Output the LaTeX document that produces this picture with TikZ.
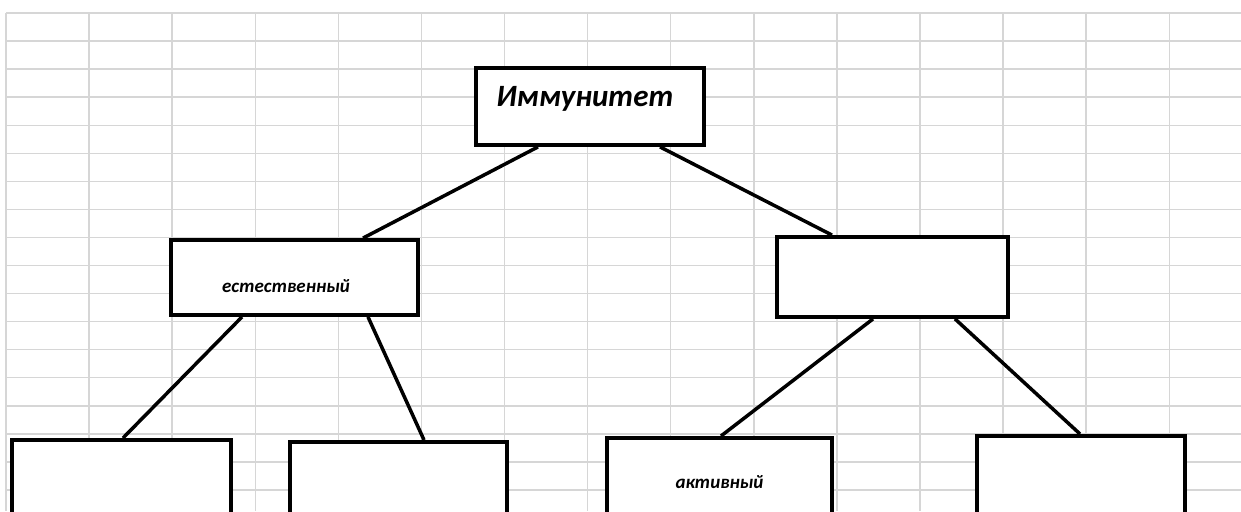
\documentclass[tikz,border=0pt]{standalone}
\usepackage{fontspec}
\setmainfont{Carlito}
\usepackage{xcolor}
\usetikzlibrary{positioning, calc}
\definecolor{gridgray}{HTML}{D6D6D6}
\definecolor{edge}{HTML}{000000}

\begin{document}
\begin{tikzpicture}[
        x=1pt, y=-1pt,
        cell/.style={gridgray, line width=1.4pt},
        box/.style={rectangle, draw=edge, fill=white, line width=3.8pt,
                    inner sep=0pt, minimum height=#1},
        box/.default=120pt,
        big/.style={font=\bfseries\itshape\fontsize{31}{33}\selectfont},
        small/.style={font=\bfseries\itshape\fontsize{19}{21}\selectfont},
        link/.style={draw=edge, line width=3.5pt}
      ]
        \useasboundingbox (0,0) rectangle (1241,511);
        \clip (0,0) rectangle (1241,511);
        \foreach \i in {0,...,14}
          \draw[cell] ({6+83.09*\i},13) -- ({6+83.09*\i},511);
        \foreach \j in {0,...,17}
          \draw[cell] (6,{13+28.06*\j}) -- (1241,{13+28.06*\j});

        \node[box=77pt, minimum width=228pt,
              label={[big, xshift=-5pt, yshift=7.5pt]center:Иммунитет}] (imm) at (590,106.5) {};
        \node[box=75pt, minimum width=247pt,
              label={[small, xshift=-8.5pt, yshift=-8.5pt]center:естественный}] (nat) at (294.5,277.5) {};
        \node[box=80pt, minimum width=231pt] (acq) at (892.5,277) {};
        \node[box, minimum width=219pt, anchor=north] (n1) at (121.5,438) {};
        \node[box, minimum width=217pt, anchor=north] (n2) at (398.5,440) {};
        \node[box, minimum width=225pt, anchor=north,
              label={[small, yshift=-56pt]north:активный}] (act) at (719.5,436) {};
        \node[box, minimum width=208pt, anchor=north] (a2) at (1081,434) {};

        \draw[link] ([xshift=-52pt]imm.south) -- ([xshift=68.5pt]nat.north);
        \draw[link] ([xshift=70pt]imm.south) -- ([xshift=-60.5pt]acq.north);
        \draw[link] ([xshift=-52.5pt]nat.south) -- ([xshift=1.5pt]n1.north);
        \draw[link] ([xshift=73.5pt]nat.south) -- ([xshift=25.5pt]n2.north);
        \draw[link] ([xshift=-19.5pt]acq.south) -- ([xshift=1.5pt]act.north);
        \draw[link] ([xshift=62.5pt]acq.south) -- ([xshift=-1pt]a2.north);
      \end{tikzpicture}
\end{document}
